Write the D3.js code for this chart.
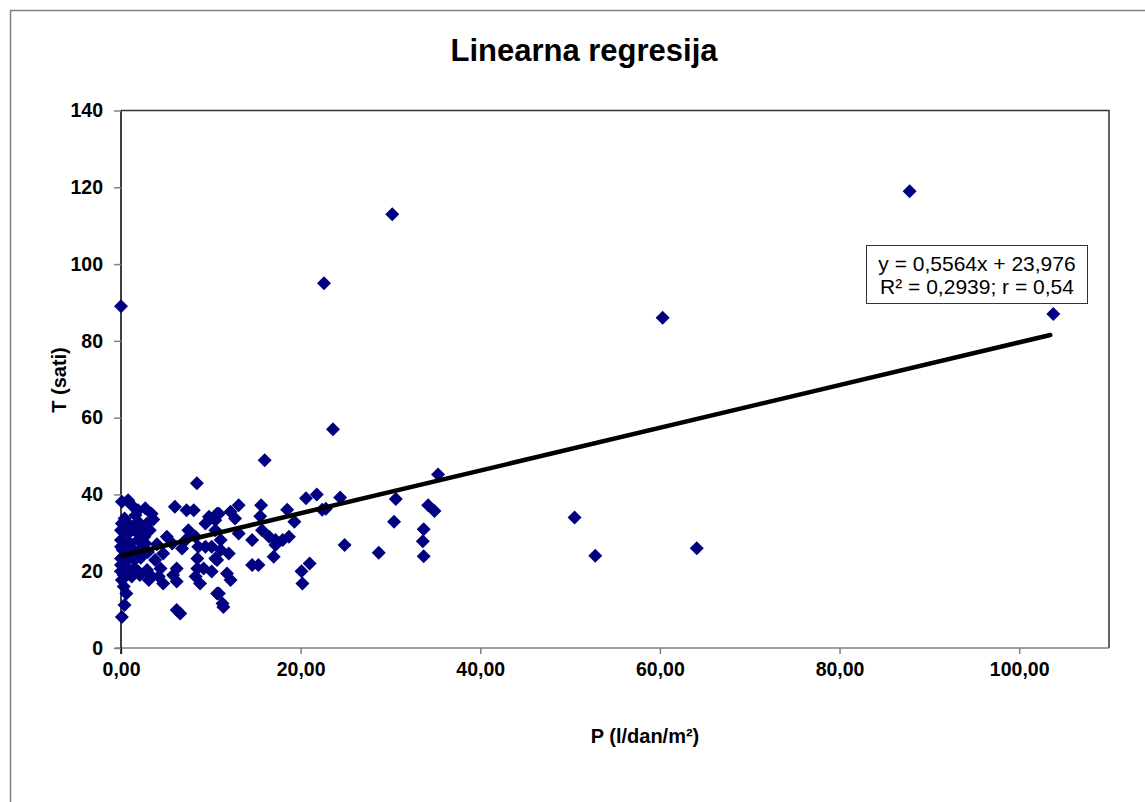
<!DOCTYPE html>
<html><head><meta charset="utf-8">
<script src="https://cdn.jsdelivr.net/npm/d3@7"></script>
<style>body{margin:0;background:#fff}svg{display:block}</style>
</head><body>
<svg id="c" width="1145" height="802"></svg>
<script>
const title = "Linearna regresija";
const xLabel = "P (l/dan/m²)";
const yLabel = "T (sati)";
const xTicks = [0,20,40,60,80,100];
const yTicks = [0,20,40,60,80,100,120,140];
const trendSlope = 0.5564, trendIntercept = 23.976;
const legendLines = ["y = 0,5564x + 23,976", "R² = 0,2939; r = 0,54"];
// P values
const pVals = [0.0,30.2,22.6,87.8,60.3,103.8,23.6,16.0,8.45,35.3,50.5,52.8,64.1,28.7,24.9,
 30.6,30.4,24.4,22.8,21.8,20.6,22.4,33.7,33.6,33.7,34.2,34.9,21.0,20.1,20.2,
 13.1,12.2,12.7,10.9,15.6,15.5,18.5,19.3,13.1,14.6,15.7,16.5,17.2,18.0,18.7,17.2,17.0,14.6,15.3,12.0,11.1,10.7,11.8,12.2,10.9,11.4,10.5,
 6.0,7.3,8.1,9.8,10.7,9.4,10.5,7.5,8.3,7.2,5.1,5.7,4.7,6.8,8.6,9.4,10.1,11.1,8.5,10.5,8.5,9.2,8.3,8.8,10.1,10.7,11.3,6.2,5.8,6.2,4.7,4.4,3.8,3.4,3.1,4.2,6.2,6.6,2.9,
 0.1,0.4,0.6,0.1,0.3,0.1,0.8,1.2,1.9,2.7,3.4,1.6,0.4,0.1,1.0,1.9,2.9,0.0,0.8,1.7,2.5,3.2,0.0,1.0,1.9,2.7,0.0,1.2,2.3,0.0,0.8,1.5,0.0,0.6,1.5,0.0,0.8,1.9,0.3,1.2,2.1,
 0.5,1.4,2.2,3.0,0.7,1.8,2.6,4.0,3.6,0.2];
// T values
const tVals = [89,113,95,119,86,87,57,48.9,42.9,45.2,34,24,26,24.8,26.8,
 38.8,32.9,39.2,36.3,40,39,36,30.9,27.8,23.9,37.2,35.7,22,20,16.8,
 37.2,35.5,33.7,35,37.2,34.3,36,32.9,29.8,28.1,30.7,29,28.1,28.1,29,26.8,23.8,21.6,21.6,24.6,28.1,22.9,19.4,17.7,14.2,10.7,30.7,
 36.8,35.9,35.9,34.2,35,32.4,33.3,30.7,29,28.1,29,27.2,24.6,25.9,26.4,26.4,26.4,25.5,23.3,23.3,20.7,20.7,18.6,16.8,19.9,14.2,11.6,20.7,19,17.3,16.8,20.7,22.9,18.6,17.7,18.6,9.9,9,20.3,
 8.1,11.2,14.2,17.7,16,38.1,38.5,37.2,35.9,36.4,35,34.6,33.7,32.4,32,32.9,32.4,30.7,29.8,30.3,30.3,30.7,28.1,27.3,28.1,27.2,26.4,26,26,23.3,23.3,22.9,21.6,21.2,20.7,20,19.4,20,19,18.6,19,
 24.5,24.8,23.5,25,31,31.5,29,27,33.5,25.5];

const svg = d3.select("#c");
const font = "Liberation Sans, Arial, sans-serif";
// outer border
svg.append("rect").attr("x",10.5).attr("y",10.5).attr("width",1160).attr("height",820)
  .attr("fill","none").attr("stroke","#808080").attr("stroke-width",1.5);

const x = d3.scaleLinear().domain([0,110]).range([121,1109]);
const y = d3.scaleLinear().domain([0,140]).range([648,110.5]);

// plot border top/right
svg.append("path").attr("d",`M${x(0)},${y(140)}H${x(110)}V${y(0)}`)
  .attr("fill","none").attr("stroke","#333").attr("stroke-width",1.5);

// x axis
const gx = svg.append("g").attr("transform",`translate(0,${y(0)})`)
  .call(d3.axisBottom(x).tickValues(xTicks).tickSize(6).tickSizeOuter(0)
    .tickFormat(d=>d3.format(".2f")(d).replace(".",",")));
gx.select(".domain").attr("stroke","#808080").attr("stroke-width",1.5)
  .attr("d",`M${x(0)-6},0H${x(110)}`);
gx.selectAll(".tick line").attr("stroke","#808080").attr("stroke-width",1.5);
gx.selectAll(".tick text").attr("font-family",font).attr("font-size",19.5)
  .attr("font-weight","bold").attr("fill","#000").attr("dy","0.95em");

// y axis
const gy = svg.append("g").attr("transform",`translate(${x(0)},0)`)
  .call(d3.axisLeft(y).tickValues(yTicks).tickSize(7).tickSizeOuter(0));
gy.select(".domain").attr("stroke","#000").attr("stroke-width",1.5)
  .attr("d",`M0,${y(140)}V${y(0)+6}`);
gy.selectAll(".tick line").attr("stroke","#808080").attr("stroke-width",1.5);
gy.selectAll(".tick text").attr("font-family",font).attr("font-size",19.5)
  .attr("font-weight","bold").attr("fill","#000").attr("x",-18);

// points
const pts = pVals.map((p,i)=>({p, t:tVals[i]}));
const r = 7;
svg.append("g").selectAll("path").data(pts).join("path")
  .attr("d",d=>`M${x(d.p)},${y(d.t)-r}L${x(d.p)+r},${y(d.t)}L${x(d.p)},${y(d.t)+r}L${x(d.p)-r},${y(d.t)}Z`)
  .attr("fill","#000080");

// trendline
const xmin = 0, xmax = d3.max(pVals);
svg.append("line").attr("x1",x(xmin)).attr("y1",y(trendIntercept+trendSlope*xmin))
  .attr("x2",x(xmax)-3).attr("y2",y(trendIntercept+trendSlope*(xmax-0.35)))
  .attr("stroke","#000").attr("stroke-width",4.5).attr("stroke-linecap","round");

// legend
svg.append("rect").attr("x",866.5).attr("y",245.5).attr("width",221).attr("height",58)
  .attr("fill","#fff").attr("stroke","#333").attr("stroke-width",1);
svg.append("g").selectAll("text").data(legendLines).join("text")
  .attr("x",977).attr("y",(d,i)=>271+i*23).attr("text-anchor","middle")
  .attr("font-family",font).attr("font-size",21).text(d=>d);

// titles
svg.append("text").attr("x",584).attr("y",61).attr("text-anchor","middle")
  .attr("font-family",font).attr("font-size",31).attr("font-weight","bold").text(title);
svg.append("text").attr("x",645).attr("y",743).attr("text-anchor","middle")
  .attr("font-family",font).attr("font-size",20).attr("font-weight","bold").text(xLabel);
svg.append("text").attr("transform","translate(66,380) rotate(-90)").attr("text-anchor","middle")
  .attr("font-family",font).attr("font-size",20).attr("font-weight","bold").text(yLabel);
</script>
</body></html>
